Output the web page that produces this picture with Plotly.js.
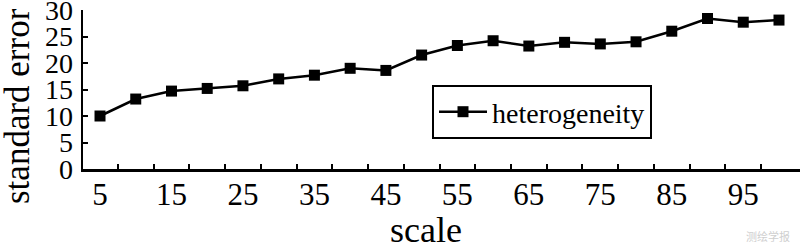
<!DOCTYPE html>
<html>
<head>
<meta charset="utf-8">
<script src="https://cdn.plot.ly/plotly-3.0.1.min.js"></script>
<style>
  html, body { margin: 0; padding: 0; background: #ffffff; }
  #chart { width: 800px; height: 249px; }
</style>
</head>
<body>
<div id="chart"></div>
<script>
// ---- data ----
const scales = [5, 10, 15, 20, 25, 30, 35, 40, 45, 50, 55, 60, 65, 70, 75, 80, 85, 90, 95, 100];
const standardError = [10.0, 13.2, 14.7, 15.2, 15.7, 17.0, 17.7, 19.0, 18.6, 21.5, 23.3, 24.2, 23.2, 23.9, 23.6, 24.0, 26.0, 28.4, 27.7, 28.1];
const seriesName = 'heterogeneity';
const xTickLabelValues = [5, 15, 25, 35, 45, 55, 65, 75, 85, 95];
const xTickMarkValues = [7.5, 12.5, 17.5, 22.5, 27.5, 32.5, 37.5, 42.5, 47.5, 52.5, 57.5, 62.5, 67.5, 72.5, 77.5, 82.5, 87.5, 92.5, 97.5];
const yTickValues = [0, 5, 10, 15, 20, 25, 30];
const xTitle = 'scale';
const yTitle = 'standard error';
const watermark = '测绘学报';

const SERIF = '"Liberation Serif", "Times New Roman", serif';

const trace = {
  x: scales,
  y: standardError,
  name: seriesName,
  type: 'scatter',
  mode: 'lines+markers',
  line: { color: '#000000', width: 2.5 },
  marker: { symbol: 'square', size: 11, color: '#000000' },
  showlegend: true
};
// invisible helper trace to carry the inner tick marks axis
const tickTrace = {
  x: [scales[0]],
  y: [standardError[0]],
  xaxis: 'x2',
  yaxis: 'y',
  type: 'scatter',
  mode: 'markers',
  marker: { opacity: 0 },
  showlegend: false,
  hoverinfo: 'skip'
};

const L = 83, T = 10, W = 800, H = 249, B = 80, R = 0;
const pw = W - L - R, ph = H - T - B;
const px = v => (v - L) / pw;
const py = v => (H - B - v) / ph;

const layout = {
  width: W,
  height: H,
  margin: { l: L, r: R, t: T, b: B, pad: 0 },
  paper_bgcolor: '#ffffff',
  plot_bgcolor: '#ffffff',
  font: { family: SERIF, color: '#000000', size: 30 },
  showlegend: true,
  xaxis: {
    range: [2.62, 102.94],
    tickmode: 'array',
    tickvals: xTickLabelValues,
    ticktext: xTickLabelValues.map(String),
    ticks: '',
    showgrid: false,
    zeroline: false,
    showline: true,
    linecolor: '#000000',
    linewidth: 2.5,
    tickfont: { family: SERIF, size: 31, color: '#000000' },
    ticklabelstandoff: -4,
    ticklabeloverflow: 'allow'
  },
  xaxis2: {
    range: [2.62, 102.94],
    overlaying: 'x',
    anchor: 'y',
    side: 'bottom',
    tickmode: 'array',
    tickvals: xTickMarkValues,
    ticks: 'inside',
    ticklen: 5,
    tickwidth: 2,
    tickcolor: '#000000',
    showticklabels: false,
    showgrid: false,
    zeroline: false,
    showline: false
  },
  yaxis: {
    range: [0, 30],
    tickmode: 'array',
    tickvals: yTickValues,
    ticktext: yTickValues.map(String),
    ticks: 'inside',
    ticklen: 5,
    tickwidth: 2,
    tickcolor: '#000000',
    showgrid: false,
    zeroline: false,
    showline: true,
    linecolor: '#000000',
    linewidth: 2.5,
    tickfont: { family: SERIF, size: 28, color: '#000000' },
    ticklabelstandoff: 2,
    ticklabeloverflow: 'allow'
  },
  legend: {
    x: px(432),
    y: py(85),
    xanchor: 'left',
    yanchor: 'top',
    bgcolor: '#ffffff',
    bordercolor: '#000000',
    borderwidth: 2,
    font: { family: SERIF, size: 28, color: '#000000' },
    itemwidth: 48,
    entrywidth: 246
  },
  annotations: [
    {
      text: yTitle,
      xref: 'paper', yref: 'paper',
      x: px(17), y: py(106),
      xanchor: 'center', yanchor: 'middle',
      textangle: -90,
      showarrow: false,
      font: { family: SERIF, size: 35, color: '#000000' }
    },
    {
      text: xTitle,
      xref: 'paper', yref: 'paper',
      x: px(426), y: py(230),
      xanchor: 'center', yanchor: 'middle',
      showarrow: false,
      font: { family: SERIF, size: 36, color: '#000000' }
    },
    {
      text: watermark,
      xref: 'paper', yref: 'paper',
      x: px(792), y: py(236),
      xanchor: 'right', yanchor: 'middle',
      showarrow: false,
      font: { family: '"Noto Sans CJK SC", sans-serif', size: 11, color: '#cfcfcf' }
    }
  ]
};

Plotly.newPlot('chart', [trace, tickTrace], layout, { staticPlot: true, displayModeBar: false });
</script>
</body>
</html>
